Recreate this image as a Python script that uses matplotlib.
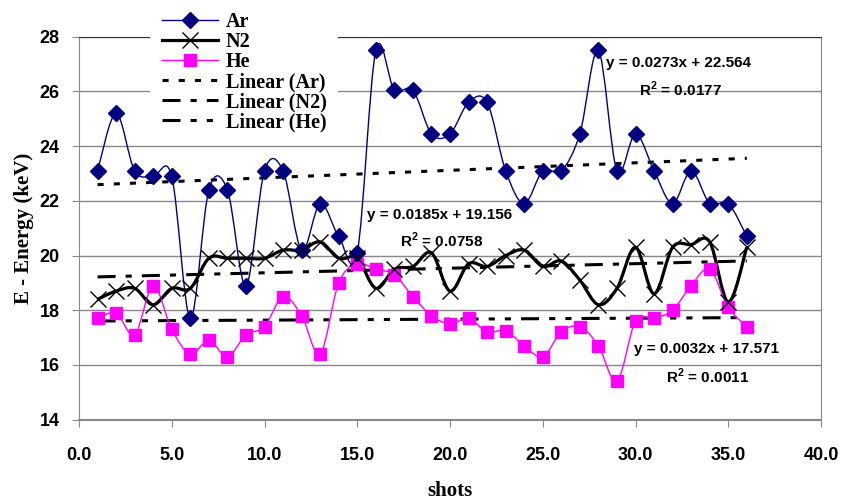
import numpy as np
import matplotlib
matplotlib.use('Agg')
import matplotlib.pyplot as plt
from matplotlib.path import Path
from matplotlib.patches import PathPatch
from matplotlib.lines import Line2D

shots = list(range(1, 37))

ar = [23.1, 25.2, 23.1, 22.9, 22.9, 17.7, 22.4, 22.4, 18.9, 23.1, 23.1, 20.2,
      21.9, 20.7, 20.1, 27.5, 26.05, 26.05, 24.45, 24.45, 25.6, 25.6, 23.1, 21.9,
      23.1, 23.1, 24.45, 27.5, 23.1, 24.45, 23.1, 21.9, 23.1, 21.9, 21.9, 20.7]

n2 = [18.4, 18.7, 18.8, 18.2, 18.8, 18.8, 19.9, 19.9, 19.9, 19.9, 20.2, 20.2,
      20.5, 19.9, 19.9, 18.8, 19.5, 19.6, 20.1, 18.7, 19.7, 19.6, 20.0, 20.2,
      19.6, 19.8, 19.1, 18.2, 18.8, 20.3, 18.6, 20.3, 20.4, 20.5, 18.3, 20.3]

he = [17.7, 17.9, 17.1, 18.9, 17.3, 16.4, 16.9, 16.3, 17.1, 17.4, 18.5, 17.8,
      16.4, 19.0, 19.7, 19.5, 19.3, 18.5, 17.8, 17.5, 17.7, 17.2, 17.25, 16.7,
      16.3, 17.2, 17.4, 16.7, 15.4, 17.6, 17.7, 18.0, 18.9, 19.5, 18.1, 17.4]

eq_text = ['y = 0.0273x + 22.564', 'y = 0.0185x + 19.156', 'y = 0.0032x + 17.571']
r2_text = ['R$^\\mathbf{2}$ = 0.0177', 'R$^\\mathbf{2}$ = 0.0758', 'R$^\\mathbf{2}$ = 0.0011']

AR_C = '#000080'
HE_C = '#FF00FF'


def smooth_path(xs, ys):
    # excel-like smoothed line: catmull-rom turned into bezier segments
    p = np.column_stack([xs, ys]).astype(float)
    verts = [p[0]]
    codes = [Path.MOVETO]
    n = len(p)
    for i in range(n - 1):
        p0 = p[i - 1] if i > 0 else p[i]
        p1 = p[i]
        p2 = p[i + 1]
        p3 = p[i + 2] if i + 2 < n else p[i + 1]
        c1 = p1 + (p2 - p0) / 6.0
        c2 = p2 - (p3 - p1) / 6.0
        verts += [c1, c2, p2]
        codes += [Path.CURVE4] * 3
    return Path(verts, codes)


plt.rcParams['mathtext.fontset'] = 'custom'
plt.rcParams['mathtext.bf'] = 'Liberation Sans:bold'
plt.rcParams['mathtext.rm'] = 'Liberation Sans:bold'

fig = plt.figure(figsize=(8.41, 5.01), dpi=100)
ax = fig.add_axes([79 / 841, 1 - 419.6 / 501, 742 / 841, 382.8 / 501])

ax.add_patch(PathPatch(smooth_path(shots, ar), fill=False, edgecolor=AR_C, lw=1.0, zorder=3))
ax.add_patch(PathPatch(smooth_path(shots, n2), fill=False, edgecolor='black', lw=2.3, zorder=3))
ax.add_patch(PathPatch(smooth_path(shots, he), fill=False, edgecolor=HE_C, lw=1.0, zorder=3))

ax.plot(shots, ar, ls='none', marker='D', ms=8, color=AR_C, zorder=5)
ax.plot(shots, n2, ls='none', marker='x', ms=11, mew=1.0, color='black', zorder=5)
ax.plot(shots, he, ls='none', marker='s', ms=9, color=HE_C, zorder=4)

# trendline dashes (scaled by linewidth)
styles = [(0, (2, 3.3)), (0, (5.9, 3.3, 2, 3.3)), (0, (5.9, 3.3, 2, 3.3, 2, 3.3))]
xs = np.array(shots, dtype=float)
for vals, st in zip([ar, n2, he], styles):
    k, b = np.polyfit(xs, vals, 1)
    ax.plot(xs, k * xs + b, color='black', lw=2.2, ls=st, zorder=2)

eqfont = dict(family='Liberation Sans', fontweight='bold', fontsize=11, color='black')
ax.text(28.41, 27.05, eq_text[0], ha='left', va='center', **eqfont)
ax.text(32.4, 26.09, r2_text[0], ha='center', va='center', **eqfont)
ax.text(15.53, 21.48, eq_text[1], ha='left', va='center', **eqfont)
ax.text(19.56, 20.56, r2_text[1], ha='center', va='center', **eqfont)
ax.text(29.93, 16.57, eq_text[2], ha='left', va='center', **eqfont)
ax.text(33.9, 15.6, r2_text[2], ha='center', va='center', **eqfont)

ax.set_xlim(0, 40)
ax.set_ylim(14, 28)
ax.set_xticks(np.arange(0, 41, 5))
ax.set_xticklabels([f'{v:.1f}' for v in np.arange(0, 41, 5)])
ax.set_yticks(np.arange(14, 29, 2))
ax.yaxis.grid(True, color='#888888', lw=1.0)
ax.set_axisbelow(True)
ax.spines['top'].set_color('#333333')
ax.spines['right'].set_color('#888888')
ax.spines['left'].set_color('#888888')
ax.spines['bottom'].set_color('#888888')
ax.spines['bottom'].set_linewidth(1.5)
ax.tick_params(axis='both', direction='out', length=5, color='#888888')
ax.tick_params(axis='x', pad=15)
ax.tick_params(axis='y', pad=9)
for lab in ax.get_xticklabels() + ax.get_yticklabels():
    lab.set_fontfamily('Liberation Sans')
    lab.set_fontweight('bold')
    lab.set_fontsize(13)

ax.set_xlabel('shots', family='Liberation Serif', fontweight='bold', fontsize=15, labelpad=12)
ax.set_ylabel('E - Energy (keV)', family='Liberation Serif', fontweight='bold', fontsize=15, labelpad=4)

handles = [
    Line2D([], [], color=AR_C, lw=1.0, marker='D', ms=8),
    Line2D([], [], color='black', lw=2.3, marker='x', ms=11, mew=1.0),
    Line2D([], [], color=HE_C, lw=1.0, marker='s', ms=9),
    Line2D([], [], color='black', lw=2.2, ls=styles[0]),
    Line2D([], [], color='black', lw=2.2, ls=styles[1]),
    Line2D([], [], color='black', lw=2.2, ls=styles[2]),
]
labels = ['Ar', 'N2', 'He', 'Linear (Ar)', 'Linear (N2)', 'Linear (He)']
leg = fig.legend(handles, labels, loc='upper left', bbox_to_anchor=(150 / 841, 1 - 0 / 501),
                 frameon=True, facecolor='white', edgecolor='none', framealpha=1,
                 prop=dict(family='Liberation Serif', weight='bold', size=14.5),
                 handlelength=2.8, handletextpad=0.35, labelspacing=0.0,
                 borderpad=0.6, borderaxespad=0)
leg.set_zorder(10)

fig.savefig('out.png', dpi=100)
